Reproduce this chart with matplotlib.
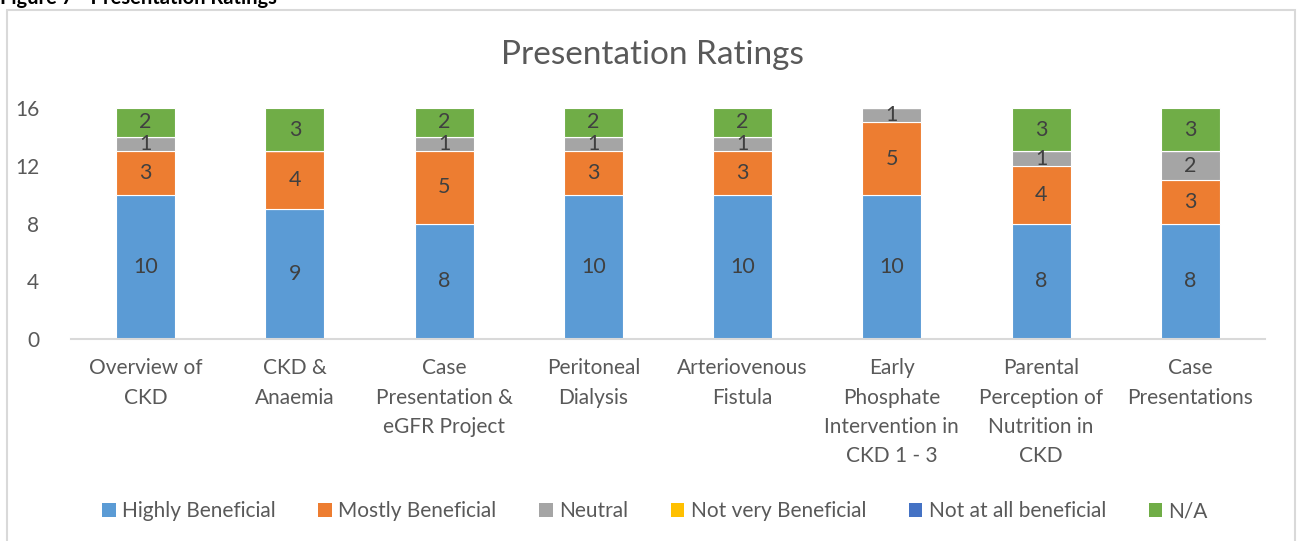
import matplotlib
matplotlib.use("Agg")
import matplotlib.pyplot as plt
from matplotlib.patches import Rectangle, Patch
import numpy as np

plt.rcParams['font.family'] = ['Lato', 'DejaVu Sans']

categories = ["Overview of\nCKD", "CKD &\nAnaemia", "Case\nPresentation &\neGFR Project",
              "Peritoneal\nDialysis", "Arteriovenous\nFistula",
              "Early\nPhosphate\nIntervention in\nCKD 1 - 3",
              "Parental\nPerception of\nNutrition in\nCKD", "Case\nPresentations"]
series_names = ["Highly Beneficial", "Mostly Beneficial", "Neutral",
                "Not very Beneficial", "Not at all beneficial", "N/A"]
highly = [10, 9, 8, 10, 10, 10, 8, 8]
mostly = [3, 4, 5, 3, 3, 5, 4, 3]
neutral = [1, 0, 1, 1, 1, 1, 1, 2]
not_very = [0, 0, 0, 0, 0, 0, 0, 0]
not_at_all = [0, 0, 0, 0, 0, 0, 0, 0]
na = [2, 3, 2, 2, 2, 0, 3, 3]
yticks = [0, 4, 8, 12, 16]

colors = ["#5B9BD5", "#ED7D31", "#A5A5A5", "#FFC000", "#4472C4", "#70AD47"]
series = [highly, mostly, neutral, not_very, not_at_all, na]

W, H = 1301, 541
fig = plt.figure(figsize=(W / 100, H / 100), dpi=100)

# caption (cut off at top, as in the source page)
fig.text(0.0, 1 - 4 / H, "Figure 7 - Presentation Ratings", fontsize=14.5, fontweight='bold',
         color='black', ha='left', va='baseline')
# chart border
fig.patches.append(Rectangle((7 / W, -0.05), (1295 - 7) / W, 1.05 - 10 / H,
                             transform=fig.transFigure, fill=False,
                             edgecolor='#D9D9D9', linewidth=1.5))

ax = fig.add_axes([71 / W, 1 - 339 / H, (1265 - 71) / W, (339 - 108) / H])
x = np.arange(len(categories))
bottom = np.zeros(len(categories))
for name, vals, c in zip(series_names, series, colors):
    vals = np.array(vals, dtype=float)
    ax.bar(x, vals, 0.395, bottom=bottom, color=c, edgecolor='white',
           linewidth=0.8, label=name)
    for xi, v, b in zip(x, vals, bottom):
        if v > 0:
            ax.text(xi, b + v / 2, f"{int(v)}", ha='center', va='center',
                    fontsize=15.5, color='#404040')
    bottom += vals

ax.set_xlim(-0.5, len(categories) - 0.5)
ax.set_ylim(0, 16)
ax.set_yticks(yticks)
ax.set_xticks(x)
ax.set_xticklabels(categories, fontsize=15, color='#595959', linespacing=1.58, va='top')
ax.tick_params(axis='both', length=0, labelcolor='#595959')
ax.tick_params(axis='y', pad=23, labelsize=15)
ax.tick_params(axis='x', pad=14)
for s in ['top', 'right', 'left']:
    ax.spines[s].set_visible(False)
ax.spines['bottom'].set_color('#D9D9D9')
ax.spines['bottom'].set_linewidth(1.5)

fig.text(652 / W, 1 - 55 / H, "Presentation Ratings", fontsize=24, color='#595959',
         ha='center', va='center')

handles = [Patch(facecolor=c, edgecolor='none') for c in colors]
fig.legend(handles, series_names, loc='center', bbox_to_anchor=(655 / W, 1 - 511 / H),
           ncol=6, frameon=False, fontsize=15, handlelength=0.65, handleheight=0.65,
           handletextpad=0.3, columnspacing=2.05, labelcolor='#595959')

fig.savefig("out.png", dpi=100)
